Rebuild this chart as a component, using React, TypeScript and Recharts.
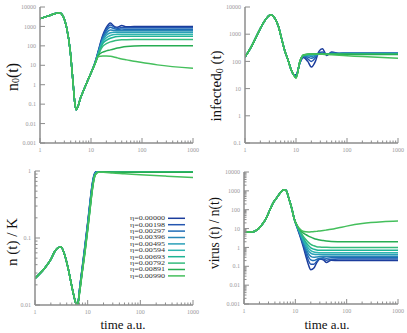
import { LineChart, Line, XAxis, YAxis } from 'recharts';

// legend labels and line colours (blue -> green)
const etaLabels = [
  'η=0.00000', 'η=0.00198', 'η=0.00297', 'η=0.00396', 'η=0.00495',
  'η=0.00594', 'η=0.00693', 'η=0.00792', 'η=0.00891', 'η=0.00990',
];
const seriesColors = [
  '#1b3c9c', '#2456b0', '#1f6cb6', '#2786b6', '#2aa0b8',
  '#2fb6b0', '#1eb394', '#34bb7c', '#27ad52', '#44bf5c',
];

const timeTicks = [1, 2, 3, 4, 5, 6, 7, 8, 9, 10, 20, 30, 40, 50, 60, 70, 80, 90, 100, 200, 300, 400, 500, 600, 700, 800, 900, 1000];

// ---- n_0(t)
const n0Ticks = [0.001, 0.01, 0.1, 1, 10, 100, 1000, 10000];
const n0EarlyT = [1, 1.5, 2, 2.4, 2.85, 3.1, 3.35, 3.9, 4.4, 4.85, 5.1, 5.5, 6.2, 7, 8.5, 10];
const n0EarlyV = [2500, 3600, 4600, 5000, 3300, 1800, 800, 60, 1.8, 0.1, 0.052, 0.07, 0.2, 0.45, 1.5, 4];
const n0LateT = [12, 14, 17, 20, 24, 28, 33, 40, 50, 70, 100, 200, 1000];
const n0Late = [
  [14, 60, 350, 900, 1500, 1050, 900, 1100, 950, 1000, 1000, 1000, 1000],
  [14, 55, 300, 750, 1200, 950, 800, 880, 850, 850, 850, 850, 850],
  [14, 50, 260, 600, 900, 780, 700, 730, 720, 720, 720, 720, 720],
  [13, 47, 220, 460, 650, 620, 600, 605, 600, 600, 600, 600, 600],
  [13, 44, 190, 350, 470, 500, 500, 500, 500, 500, 500, 500, 500],
  [13, 41, 160, 260, 340, 380, 395, 400, 400, 400, 400, 400, 400],
  [12, 38, 130, 190, 245, 280, 300, 308, 310, 310, 310, 310, 310],
  [12, 35, 95, 130, 160, 180, 195, 204, 208, 210, 210, 210, 210],
  [12, 32, 48, 55, 62, 69, 77, 85, 92, 98, 100, 100, 100],
  [12, 28, 30, 30, 29, 27, 24, 21, 19, 16, 14, 10.5, 7],
];

// ---- infected_0(t)
const infTicks = [0.1, 1, 10, 100, 1000, 10000];
const infEarlyT = [1, 1.3, 1.8, 2.3, 2.8, 3.2, 3.7, 4.5, 5.2, 6, 7, 8, 9];
const infEarlyV = [145, 320, 1100, 2600, 4400, 5200, 4300, 2000, 700, 250, 110, 50, 32];
const infLateT = [10, 12, 14, 17, 20, 24, 28, 33, 40, 50, 70, 100, 200, 1000];
const infLate = [
  [32, 90, 140, 100, 62, 100, 230, 290, 165, 220, 195, 200, 200, 200],
  [30, 92, 150, 125, 100, 135, 210, 220, 180, 205, 197, 198, 198, 198],
  [29, 95, 158, 145, 130, 155, 195, 200, 188, 198, 196, 196, 196, 196],
  [28, 98, 163, 160, 152, 168, 188, 192, 190, 194, 195, 195, 195, 195],
  [27, 100, 166, 170, 168, 178, 185, 188, 190, 192, 193, 194, 194, 194],
  [27, 102, 168, 176, 177, 182, 185, 187, 189, 190, 191, 192, 192, 192],
  [26, 103, 170, 180, 182, 184, 186, 187, 188, 189, 190, 190, 190, 190],
  [25, 104, 171, 182, 185, 186, 187, 187, 187, 187, 187, 187, 187, 186],
  [25, 105, 172, 184, 187, 187, 187, 186, 185, 184, 183, 182, 180, 178],
  [24, 105, 172, 185, 188, 187, 185, 182, 178, 174, 168, 162, 150, 130],
];

// ---- n(t) / K
const nkDecades = [0.01, 0.1, 1];
const nkEarlyT = [1, 1.55, 2, 2.4, 2.9, 3.1, 3.6, 4.3, 5, 5.7, 6.2, 6.6];
const nkEarlyV = [0.025, 0.036, 0.048, 0.064, 0.073, 0.074, 0.058, 0.034, 0.019, 0.012, 0.0098, 0.011];
const nkLateT = [7, 8, 9, 10, 11, 12, 13, 14, 16, 20, 30, 50, 100, 300, 1000];
const nkLate = [
  [0.017, 0.04, 0.085, 0.17, 0.33, 0.58, 0.83, 0.96, 1.0, 1.0, 1.0, 1.0, 1.0, 1.0, 1.0],
  [0.017, 0.039, 0.083, 0.165, 0.32, 0.57, 0.82, 0.95, 0.995, 1.0, 1.0, 1.0, 1.0, 1.0, 1.0],
  [0.017, 0.038, 0.08, 0.16, 0.31, 0.55, 0.8, 0.94, 0.99, 0.995, 0.995, 0.995, 0.995, 0.995, 0.995],
  [0.016, 0.037, 0.078, 0.155, 0.3, 0.53, 0.78, 0.93, 0.985, 0.99, 0.99, 0.99, 0.99, 0.99, 0.99],
  [0.016, 0.036, 0.075, 0.15, 0.29, 0.52, 0.77, 0.92, 0.98, 0.985, 0.985, 0.985, 0.985, 0.985, 0.985],
  [0.016, 0.035, 0.073, 0.145, 0.28, 0.5, 0.75, 0.91, 0.975, 0.98, 0.98, 0.98, 0.98, 0.98, 0.98],
  [0.016, 0.035, 0.071, 0.14, 0.27, 0.49, 0.74, 0.9, 0.97, 0.975, 0.975, 0.975, 0.975, 0.975, 0.975],
  [0.015, 0.034, 0.069, 0.137, 0.26, 0.47, 0.72, 0.89, 0.965, 0.97, 0.97, 0.97, 0.97, 0.97, 0.97],
  [0.015, 0.034, 0.067, 0.133, 0.255, 0.46, 0.71, 0.885, 0.96, 0.965, 0.96, 0.96, 0.955, 0.955, 0.955],
  [0.015, 0.033, 0.065, 0.13, 0.25, 0.45, 0.7, 0.88, 0.955, 0.955, 0.93, 0.91, 0.88, 0.84, 0.8],
];

// ---- virus(t) / n(t)
const vDecades = [0.001, 0.01, 0.1, 1, 10, 100, 1000, 10000];
const vEarlyT = [1, 1.4, 1.8, 2.2, 2.7, 3.2, 3.7, 4.4, 5.2, 6, 6.6, 7.5, 8.5, 9.6];
const vEarlyV = [6.5, 6.5, 8.5, 15, 35, 100, 230, 450, 850, 1150, 1050, 380, 120, 30];
const vLateT = [11, 12, 14, 16, 18, 20, 23, 26, 30, 35, 40, 50, 70, 100, 200, 500, 1000];
const vLate = [
  [10, 5, 1.3, 0.35, 0.12, 0.065, 0.08, 0.15, 0.24, 0.22, 0.16, 0.21, 0.2, 0.2, 0.2, 0.2, 0.2],
  [10.5, 5.5, 1.6, 0.5, 0.2, 0.13, 0.13, 0.18, 0.24, 0.24, 0.21, 0.23, 0.24, 0.24, 0.24, 0.24, 0.24],
  [11, 6, 1.9, 0.7, 0.32, 0.22, 0.2, 0.23, 0.27, 0.28, 0.27, 0.28, 0.28, 0.28, 0.28, 0.28, 0.28],
  [11.5, 6.5, 2.2, 0.9, 0.47, 0.34, 0.3, 0.31, 0.33, 0.34, 0.34, 0.34, 0.34, 0.34, 0.34, 0.34, 0.34],
  [12, 7, 2.6, 1.2, 0.66, 0.5, 0.43, 0.42, 0.42, 0.42, 0.42, 0.42, 0.42, 0.42, 0.42, 0.42, 0.42],
  [12, 7.5, 3.0, 1.5, 0.9, 0.68, 0.57, 0.54, 0.52, 0.52, 0.52, 0.52, 0.52, 0.52, 0.52, 0.52, 0.52],
  [12.5, 8, 3.5, 1.9, 1.25, 0.95, 0.8, 0.74, 0.71, 0.7, 0.7, 0.7, 0.7, 0.7, 0.7, 0.7, 0.7],
  [13, 8.5, 4.2, 2.6, 1.85, 1.45, 1.22, 1.1, 1.05, 1.02, 1.01, 1.0, 1.0, 1.0, 1.0, 1.0, 1.0],
  [13.5, 9.5, 6, 4.8, 4.0, 3.5, 3.0, 2.7, 2.45, 2.3, 2.2, 2.08, 2.02, 2.0, 2.0, 2.0, 2.0],
  [14, 10, 7.2, 6.7, 6.6, 6.7, 6.9, 7.1, 7.5, 7.9, 8.3, 9.1, 11, 13.5, 18.5, 23, 25],
];

const AXIS = '#8c8c8c';
const TICK_TXT = '#9a9a9a';
const SERIF = '"Liberation Serif", "DejaVu Serif", serif';

const withMinor = (decades: number[]) =>
  decades.flatMap((d, i) =>
    i === decades.length - 1 ? [d] : [1, 2, 3, 4, 5, 6, 7, 8, 9].map((m) => +(d * m).toPrecision(3))
  );

const isDecade = (v: number) => {
  const l = Math.log10(v);
  return Math.abs(l - Math.round(l)) < 1e-6;
};
const fmt = (v: number) => (v >= 1 ? String(Math.round(v)) : String(Number(v.toPrecision(1))));

const build = (et: number[], ev: number[], lt: number[], lv: number[]) => [
  ...et.map((t, i) => ({ t, v: ev[i] })),
  ...lt.map((t, i) => ({ t, v: lv[i] })),
];

function XTick({ x, y, payload }: any) {
  const major = isDecade(payload.value);
  return (
    <g>
      <line x1={x} x2={x} y1={y} y2={y - (major ? 5 : 2.5)} stroke={AXIS} strokeWidth={1} />
      {major && (
        <text x={x} y={y + 9} textAnchor="middle" fontSize={6} fill={TICK_TXT} fontFamily={SERIF}>
          {fmt(payload.value)}
        </text>
      )}
    </g>
  );
}

function YTick({ x, y, payload }: any) {
  const major = isDecade(payload.value);
  return (
    <g>
      <line x1={x} x2={x + (major ? 5 : 2.5)} y1={y} y2={y} stroke={AXIS} strokeWidth={1} />
      {major && (
        <text x={x - 4} y={y} dy="0.35em" textAnchor="end" fontSize={6} fill={TICK_TXT} fontFamily={SERIF}>
          {fmt(payload.value)}
        </text>
      )}
    </g>
  );
}

interface PanelProps {
  left: number;
  top: number;
  width: number;
  height: number;
  margin: { top: number; right: number; bottom: number; left: number };
  yWidth: number;
  xHeight: number;
  yDomain: [number, number];
  yTicks: number[];
  series: { t: number; v: number }[][];
}

function Panel({ left, top, width, height, margin, yWidth, xHeight, yDomain, yTicks, series }: PanelProps) {
  return (
    <div style={{ position: 'absolute', left, top }}>
      <LineChart width={width} height={height} margin={margin}>
        <XAxis
          dataKey="t"
          type="number"
          scale="log"
          domain={[1, 1000]}
          allowDataOverflow
          ticks={timeTicks}
          interval={0}
          height={xHeight}
          tickSize={0}
          tickMargin={0}
          tickLine={false}
          axisLine={{ stroke: AXIS, strokeWidth: 1.5 }}
          tick={(p: any) => <XTick {...p} />}
        />
        <YAxis
          type="number"
          scale="log"
          domain={yDomain}
          allowDataOverflow
          ticks={yTicks}
          interval={0}
          width={yWidth}
          tickSize={0}
          tickMargin={0}
          tickLine={false}
          axisLine={{ stroke: AXIS, strokeWidth: 1.5 }}
          tick={(p: any) => <YTick {...p} />}
        />
        {series.map((d, i) => (
          <Line
            key={i}
            data={d}
            dataKey="v"
            type="monotone"
            stroke={seriesColors[i]}
            strokeWidth={1.5}
            dot={false}
            isAnimationActive={false}
          />
        ))}
      </LineChart>
    </div>
  );
}

export default function App() {
  const n0Series = n0Late.map((l) => build(n0EarlyT, n0EarlyV, n0LateT, l));
  const infSeries = infLate.map((l) => build(infEarlyT, infEarlyV, infLateT, l));
  const nkSeries = nkLate.map((l) => build(nkEarlyT, nkEarlyV, nkLateT, l));
  const vSeries = vLate.map((l) => build(vEarlyT, vEarlyV, vLateT, l));

  return (
    <div style={{ position: 'absolute', left: 0, top: 0, width: 407, height: 333, background: '#fff' }}>
      <Panel left={0} top={0} width={204} height={166} margin={{ top: 7, right: 11, bottom: 0, left: 0 }}
        yWidth={40} xHeight={23} yDomain={[0.001, 10000]} yTicks={n0Ticks} series={n0Series} />
      <Panel left={204} top={0} width={203} height={166} margin={{ top: 7, right: 9, bottom: 0, left: 0 }}
        yWidth={41} xHeight={23} yDomain={[0.1, 10000]} yTicks={infTicks} series={infSeries} />
      <Panel left={0} top={166} width={204} height={167} margin={{ top: 5, right: 11, bottom: 0, left: 0 }}
        yWidth={35} xHeight={28} yDomain={[0.01, 1]} yTicks={withMinor(nkDecades)} series={nkSeries} />
      <Panel left={204} top={166} width={203} height={167} margin={{ top: 6, right: 9, bottom: 0, left: 0 }}
        yWidth={40} xHeight={29} yDomain={[0.001, 10000]} yTicks={withMinor(vDecades)} series={vSeries} />

      <svg width={407} height={333} style={{ position: 'absolute', left: 0, top: 0, pointerEvents: 'none' }}
        fontFamily={SERIF} fill="#111">
        <text transform="translate(12,77) rotate(-90)" textAnchor="middle" dominantBaseline="central" fontSize={16}>
          n<tspan dy={3} fontSize={10}>0</tspan><tspan dy={-3}>(t)</tspan>
        </text>
        <text transform="translate(216,86) rotate(-90)" textAnchor="middle" dominantBaseline="central" fontSize={15}>
          infected<tspan dy={3} fontSize={10}>0</tspan><tspan dy={-3}> (t)</tspan>
        </text>
        <text transform="translate(12,242) rotate(-90)" textAnchor="middle" dominantBaseline="central" fontSize={15}>
          n (t) / K
        </text>
        <text transform="translate(214,233) rotate(-90)" textAnchor="middle" dominantBaseline="central" fontSize={15}
          textLength={72} lengthAdjust="spacingAndGlyphs">
          virus (t) / n(t)
        </text>
        <text x={123} y={329} textAnchor="middle" fontSize={13.5} textLength={45} lengthAdjust="spacingAndGlyphs">
          time a.u.
        </text>
        <text x={327} y={329} textAnchor="middle" fontSize={13.5} textLength={45} lengthAdjust="spacingAndGlyphs">
          time a.u.
        </text>

        {etaLabels.map((lab, i) => (
          <g key={lab}>
            <text x={165} y={218.3 + i * 6.4} dy="0.35em" textAnchor="end" fontSize={5.4} fill="#333"
              textLength={35} lengthAdjust="spacingAndGlyphs">
              {lab}
            </text>
            <line x1={168} x2={185} y1={218.3 + i * 6.4} y2={218.3 + i * 6.4} stroke={seriesColors[i]} strokeWidth={1.5} />
          </g>
        ))}
      </svg>
    </div>
  );
}
